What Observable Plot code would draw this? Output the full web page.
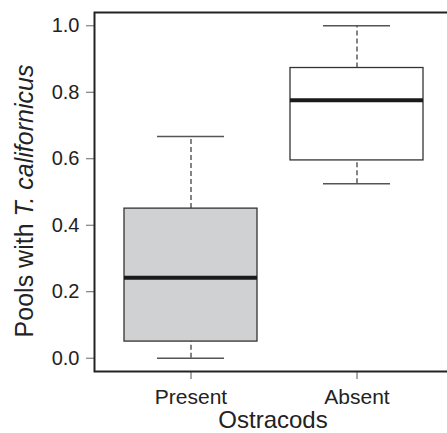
<!DOCTYPE html>
<html><head><meta charset="utf-8">
<script src="https://cdn.jsdelivr.net/npm/d3@7"></script>
<script src="https://cdn.jsdelivr.net/npm/@observablehq/plot@0.6"></script>
<style>html,body{margin:0;padding:0;background:#fff;overflow:hidden} svg{display:block}</style>
</head><body><div id="chart"></div>
<script>
const categories = ["Present", "Absent"];
const whiskerLow = [0.0, 0.525];
const quartile1 = [0.05, 0.595];
const medians = [0.242, 0.776];
const quartile3 = [0.45, 0.873];
const whiskerHigh = [0.667, 1.0];
const yTicks = [0, 0.2, 0.4, 0.6, 0.8, 1.0];
const xTitle = "Ostracods";
const yTitle = ["Pools with ", "T. californicus"];

const data = categories.map((c, i) => ({
  category: c, lo: whiskerLow[i], q1: quartile1[i], med: medians[i], q3: quartile3[i], hi: whiskerHigh[i]
}));

const font = "'Liberation Sans', Arial, Helvetica, sans-serif";

const chart = Plot.plot({
  width: 447, height: 433,
  marginTop: 12, marginBottom: 62, marginLeft: 94, marginRight: -6,
  style: {fontFamily: font, color: "#222", background: "#fff", overflow: "hidden"},
  x: {domain: categories, paddingInner: 0.2, paddingOuter: 0.18, label: null, axis: null},
  y: {domain: [-0.04, 1.04], label: null, axis: null},
  color: {domain: categories, range: ["#d0d1d3", "#ffffff"]},
  marks: [
    Plot.ruleX(data, {x: "category", y1: "q3", y2: "hi", stroke: "#333", strokeWidth: 1.2, strokeDasharray: "5,3"}),
    Plot.ruleX(data, {x: "category", y1: "lo", y2: "q1", stroke: "#333", strokeWidth: 1.2, strokeDasharray: "5,3"}),
    Plot.tickY(data, {x: "category", y: "hi", insetLeft: 33, insetRight: 33, stroke: "#555", strokeWidth: 1.5}),
    Plot.tickY(data, {x: "category", y: "lo", insetLeft: 33, insetRight: 33, stroke: "#555", strokeWidth: 1.5}),
    Plot.barY(data, {x: "category", y1: "q1", y2: "q3", fill: "category", stroke: "#333", strokeWidth: 1.3}),
    Plot.tickY(data, {x: "category", y: "med", stroke: "#1a1a1a", strokeWidth: 4}),
    Plot.axisY({ticks: yTicks, tickSize: 8, tickPadding: 7, tickFormat: d3.format(".1f"), fontSize: 20, stroke: "#666", fill: "#222", label: null}),
    Plot.axisX({tickSize: 8, tickPadding: 10, fontSize: 21, stroke: "#555", fill: "#222", label: null}),
    Plot.frame({stroke: "#222", strokeWidth: 2})
  ]
});

const svg = d3.select(chart);
const yt = svg.append("text")
  .attr("transform", "translate(33,201) rotate(-90)")
  .attr("text-anchor", "middle")
  .attr("font-family", font)
  .attr("font-size", 25)
  .attr("fill", "#222");
yt.append("tspan").text(yTitle[0]);
yt.append("tspan").attr("font-style", "italic").text(yTitle[1]);

svg.append("text")
  .attr("x", 273).attr("y", 428)
  .attr("text-anchor", "middle")
  .attr("font-family", font)
  .attr("font-size", 24)
  .attr("fill", "#222")
  .text(xTitle);

document.getElementById("chart").appendChild(chart);
</script>
</body></html>
